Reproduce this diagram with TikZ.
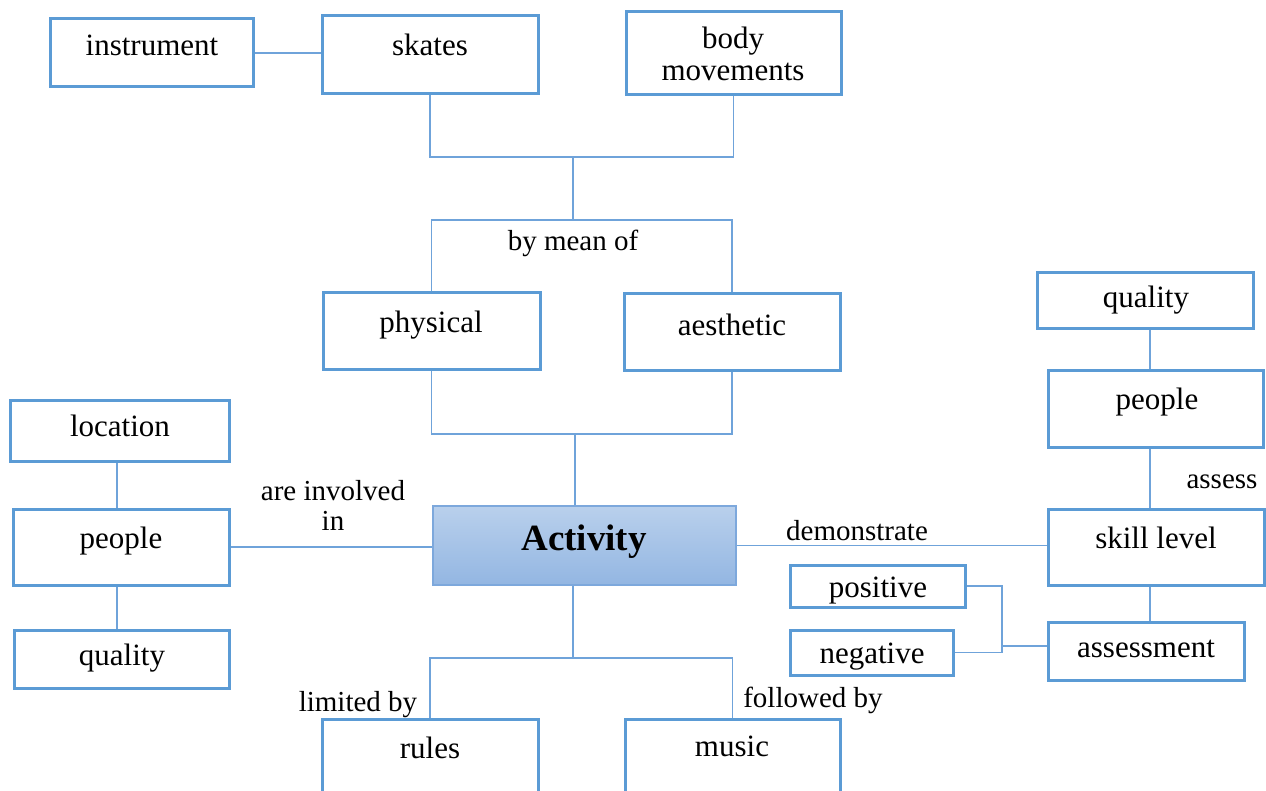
\documentclass[tikz,border=0pt]{standalone}
\usepackage{fontspec}
\setmainfont{Liberation Serif}
\definecolor{boxblue}{HTML}{5B9BD5}
\definecolor{lineblue}{HTML}{6FA3DA}
\definecolor{actTop}{HTML}{B9D0EC}
\definecolor{actBot}{HTML}{93B6E2}
\definecolor{actDraw}{HTML}{7DA8DC}
\begin{document}
\begin{tikzpicture}[x=1pt,y=-1pt,
  box/.style={draw=boxblue, line width=3pt, fill=white, inner sep=0pt},
  ln/.style={draw=lineblue, line width=1.5pt},
  txt/.style={font=\fontsize{31}{36}\selectfont, inner sep=0pt, anchor=base, yshift=-2pt},
  lbl/.style={font=\fontsize{29}{34}\selectfont, inner sep=0pt, anchor=base, yshift=-2pt}]
\useasboundingbox (0,0) rectangle (1266,791);
\fill[white] (0,0) rectangle (1266,791);

% boxes
\node[box, minimum width=203pt, minimum height=68pt] (instrument) at (151.5,53) {};
\node[box, minimum width=216pt, minimum height=78pt] (skates) at (430,55) {};
\node[box, minimum width=215pt, minimum height=83pt] (body) at (733.5,53.5) {};
\node[box, minimum width=217pt, minimum height=77pt] (physical) at (431.5,331.5) {};
\node[box, minimum width=216pt, minimum height=77pt] (aesthetic) at (732,332.5) {};
\node[draw=actDraw, line width=2pt, top color=actTop, bottom color=actBot,
      minimum width=303pt, minimum height=79pt, inner sep=0pt] (activity) at (584.5,545.5) {};
\node[box, minimum width=219pt, minimum height=61pt] (location) at (119.5,430.5) {};
\node[box, minimum width=216pt, minimum height=76pt] (peopleL) at (121,547) {};
\node[box, minimum width=215pt, minimum height=58pt] (qualityL) at (121.5,659) {};
\node[box, minimum width=216pt, minimum height=76pt] (skill) at (1156,547) {};
\node[box, minimum width=215pt, minimum height=76pt] (peopleR) at (1155.5,409) {};
\node[box, minimum width=216pt, minimum height=56pt] (qualityR) at (1145,301) {};
\node[box, minimum width=196pt, minimum height=58pt] (assessment) at (1146,651) {};
\node[box, minimum width=175pt, minimum height=42pt] (positive) at (877.5,586) {};
\node[box, minimum width=163pt, minimum height=45pt] (negative) at (871.5,652.5) {};
\node[box, minimum width=216pt, minimum height=102pt] (rules) at (430,770) {};
\node[box, minimum width=215pt, minimum height=102pt] (music) at (732.5,770) {};

% junction coordinates
\coordinate (j1) at (573,157);
\coordinate (j2) at (573,220);
\coordinate (j3) at (575,434);
\coordinate (j4) at (1002,646);
\coordinate (j5) at (573,658);
\coordinate (xr) at (1150,0);
\coordinate (xl) at (117,0);

% connectors
\draw[ln] (instrument.east) -- (instrument.east -| skates.west);
\draw[ln] (skates.south) |- (body.south |- j1) -- (body.south);
\draw[ln] (j1) -- (j2);
\draw[ln] (physical.north) |- (aesthetic.north |- j2) -- (aesthetic.north);
\draw[ln] (physical.south) |- (aesthetic.south |- j3) -- (aesthetic.south);
\draw[ln] (j3) -- (j3 |- activity.north);
\draw[ln] (peopleL.east) -- (peopleL.east -| activity.west);
\draw[ln] (location.south -| xl) -- (peopleL.north -| xl);
\draw[ln] (peopleL.south -| xl) -- (qualityL.north -| xl);
\draw[ln] (activity.east) -- (activity.east -| skill.west);
\draw[ln] (qualityR.south -| xr) -- (peopleR.north -| xr);
\draw[ln] (peopleR.south -| xr) -- (skill.north -| xr);
\draw[ln] (skill.south -| xr) -- (assessment.north -| xr);
\draw[ln] (positive.east) -| (j4 |- negative.east) -- (negative.east);
\draw[ln] (j4) -- (j4 -| assessment.west);
\draw[ln] (activity.south -| j5) -- (j5);
\draw[ln] (rules.north) |- (music.north |- j5) -- (music.north);

% box texts
\node[txt] (tInstrument) at (152,54) {instrument};
\node[txt] (tSkates) at (430,54) {skates};
\node[txt] (tBody) at (733,47) {body};
\node[txt] (tMove) at (733,79) {movements};
\node[txt] (tPhysical) at (431,331) {physical};
\node[txt] (tAesthetic) at (732,334) {aesthetic};
\node[txt, font=\fontsize{37}{42}\selectfont\bfseries] (tActivity) at (584,548) {Activity};
\node[txt] (tLocation) at (120,434) {location};
\node[txt] (tPeopleL) at (121,546) {people};
\node[txt] (tQualityL) at (122,663) {quality};
\node[txt] (tSkill) at (1156,546) {skill level};
\node[txt] (tPeopleR) at (1157,407) {people};
\node[txt] (tQualityR) at (1146,306) {quality};
\node[txt] (tAssessment) at (1146,655) {assessment};
\node[txt] (tPositive) at (878,595) {positive};
\node[txt] (tNegative) at (872,661) {negative};
\node[txt] (tRules) at (430,756) {rules};
\node[txt] (tMusic) at (732,754) {music};

% link labels
\node[lbl] (lMean) at (573,249) {by mean of};
\node[lbl] (lInv1) at (333,498) {are involved};
\node[lbl] (lInv2) at (333,528) {in};
\node[lbl] (lDem) at (857,538) {demonstrate};
\node[lbl] (lAssess) at (1222,486) {assess};
\node[lbl] (lLim) at (358,709) {limited by};
\node[lbl] (lFol) at (813,705) {followed by};
\end{tikzpicture}
\end{document}
